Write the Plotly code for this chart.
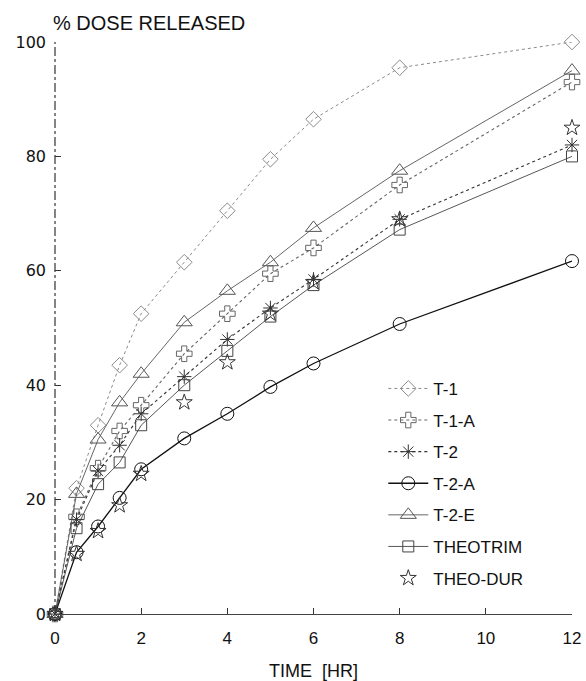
import plotly.graph_objects as go

time_hr = [0, 0.5, 1, 1.5, 2, 3, 4, 5, 6, 8, 12]
t1 = [0, 22, 33, 43.5, 52.5, 61.5, 70.5, 79.5, 86.5, 95.5, 100]
t1a = [0, 17, 25.5, 32, 36.5, 45.5, 52.5, 59.5, 64, 75, 93]
t2 = [0, 16.5, 25, 29.5, 35, 41.5, 48, 53.5, 58.5, 69, 82]
t2a = [0, 10.8, 15.3, 20.3, 25.3, 30.7, 35, 39.7, 43.8, 50.7, 61.7]
t2e = [0, 21, 30.5, 37, 42, 51, 56.5, 61.5, 67.5, 77.5, 95]
theotrim = [0, 15, 22.7, 26.5, 33, 40, 46, 52, 57.5, 67.2, 80]
theodur = [0, 10.5, 14.5, 19, 24.5, 37, 44, 52.5, 58, 69, 85]

x_ticks = [0, 2, 4, 6, 8, 10, 12]
y_ticks = [0, 20, 40, 60, 80, 100]

series = [
    ("T-1", t1, "diamond-open", "dot", "#8a8a8a", 1.0, 12, "lines+markers"),
    ("T-1-A", t1a, "cross-open", "dot", "#666666", 1.1, 13, "lines+markers"),
    ("T-2", t2, "asterisk-open", "dot", "#333333", 1.1, 12, "lines+markers"),
    ("T-2-A", t2a, "circle-open", "solid", "#111111", 1.3, 13, "lines+markers"),
    ("T-2-E", t2e, "triangle-up-open", "solid", "#555555", 0.9, 14, "lines+markers"),
    ("THEOTRIM", theotrim, "square-open", "solid", "#444444", 0.9, 11, "lines+markers"),
    ("THEO-DUR", theodur, "star-open", "solid", "#333333", 1.0, 12, "markers"),
]

fig = go.Figure()
for i, (name, ys, sym, dash, col, lw, ms, mode) in enumerate(series):
    fig.add_trace(go.Scatter(
        x=time_hr, y=ys, name=name, mode=mode, legendgroup=f"g{i}",
        line=dict(color=col, width=lw, dash=dash),
        marker=dict(symbol=sym, size=ms, color=col, line=dict(color=col, width=1.0)),
        cliponaxis=False,
    ))

font_family = "Liberation Sans, Arial, sans-serif"
fig.update_layout(
    width=586, height=681,
    margin=dict(l=55, r=14, t=42, b=67),
    paper_bgcolor="white", plot_bgcolor="white",
    font=dict(family=font_family, size=15, color="#111111"),
    showlegend=True,
    legend=dict(x=0.635, y=0.425, xanchor="left", yanchor="top",
                bgcolor="rgba(0,0,0,0)", font=dict(size=17, color="#111"),
                tracegroupgap=6.5, itemwidth=40),
    xaxis=dict(range=[0, 12], tickvals=x_ticks, ticktext=[str(v) for v in x_ticks],
               ticks="inside", ticklen=6, tickcolor="#333", showgrid=False, zeroline=False,
               showline=True, linecolor="#444", linewidth=1, automargin=False,
               tickfont=dict(size=17), ticklabelstandoff=9,
               title=dict(text="TIME  [HR]", font=dict(size=18), standoff=16)),
    yaxis=dict(range=[0, 100], tickvals=y_ticks, ticktext=[str(v) for v in y_ticks],
               ticks="inside", ticklen=6, tickcolor="#333", showgrid=False, zeroline=False,
               showline=False, ticklabelstandoff=8, automargin=False,
               tickfont=dict(family="DejaVu Sans, sans-serif", size=16)),
)
fig.add_shape(type="line", xref="x domain", yref="y domain", x0=0, x1=0, y0=0, y1=1,
              line=dict(color="#333", width=1.2, dash="dashdot"))
fig.add_annotation(text="% DOSE RELEASED", xref="paper", yref="paper", x=0, y=1,
                   xanchor="left", yanchor="bottom", xshift=-4, yshift=6,
                   showarrow=False, font=dict(size=20, color="#111"))
fig.write_html("out.html", config={"displayModeBar": False},
               post_script="document.body.style.margin='0';")
